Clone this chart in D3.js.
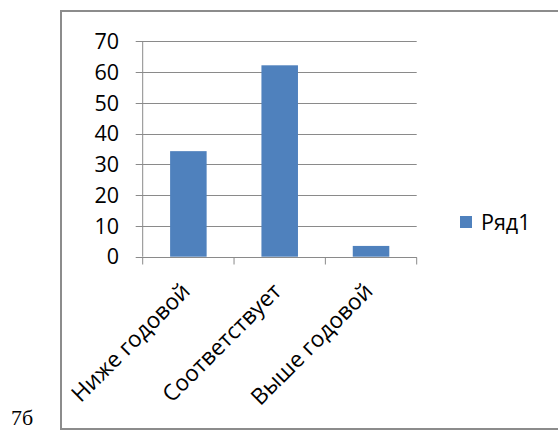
<!DOCTYPE html>
<html><head><meta charset="utf-8">
<script src="https://cdn.jsdelivr.net/npm/d3@7"></script>
<style>body{margin:0;background:#fff}</style>
</head><body>
<script>
const categories = ["Ниже годовой", "Соответствует", "Выше годовой"];
const values = [34.3, 62.2, 3.5];
const seriesName = "Ряд1";
const yTicks = [0, 10, 20, 30, 40, 50, 60, 70];
const caption = "7б";

(function () {
const W = 558, H = 432;
const svg = d3.select("body").append("svg").attr("width", W).attr("height", H);
const font = "'Open Sans', Carlito, sans-serif";
const fs = 21.5;

// chart frame (right edge runs off the picture)
svg.append("rect").attr("x", 61).attr("y", 11).attr("width", 520).attr("height", 418)
  .attr("fill", "#fff").attr("stroke", "#8c8c8c").attr("stroke-width", 2);

svg.append("text").attr("x", 11).attr("y", 425).attr("font-family", "'Liberation Serif', 'Times New Roman', serif")
  .attr("font-size", 22).attr("fill", "#000").text(caption);

const pl = 142.7, pr = 416.7, pt = 41.3, pb = 256.7;
const x = d3.scaleBand().domain(categories).range([pl, pr]).paddingInner(0.6).paddingOuter(0.3);
const y = d3.scaleLinear().domain([0, 70]).range([pb, pt]);

// gridlines
svg.append("g").selectAll("line").data(yTicks).join("line")
  .attr("x1", pl - 7).attr("x2", pr).attr("y1", d => Math.round(y(d)) + 0.5).attr("y2", d => Math.round(y(d)) + 0.5)
  .attr("stroke", "#8a8a8a").attr("stroke-width", 1);

// y axis line
svg.append("line").attr("x1", pl).attr("x2", pl).attr("y1", pt).attr("y2", pb)
  .attr("stroke", "#8a8a8a");

// y labels
svg.append("g").selectAll("text").data(yTicks).join("text")
  .attr("x", 119).attr("y", d => y(d)).attr("dy", "0.36em").attr("text-anchor", "end")
  .attr("font-family", font).attr("font-size", fs).attr("fill", "#000").text(d => d);

// bars
svg.append("g").selectAll("rect").data(values).join("rect")
  .attr("x", (d, i) => x(categories[i])).attr("width", x.bandwidth())
  .attr("y", d => y(d)).attr("height", d => y(0) - y(d)).attr("fill", "#4F81BD");

// x axis
const xb = Math.round(y(0)) + 0.5;
svg.append("line").attr("x1", pl).attr("x2", pr).attr("y1", xb).attr("y2", xb).attr("stroke", "#8a8a8a");
const step = (pr - pl) / categories.length;
const tickXs = d3.range(categories.length + 1).map(i => pl + i * step);
svg.append("g").selectAll("line").data(tickXs).join("line")
  .attr("x1", d => d).attr("x2", d => d).attr("y1", xb).attr("y2", xb + 7).attr("stroke", "#8a8a8a");

// x labels
svg.append("g").selectAll("text").data(categories).join("text")
  .attr("transform", d => `translate(${x(d) + x.bandwidth() / 2 + 3},${pb + 36}) rotate(-45)`)
  .attr("text-anchor", "end")
  .attr("font-family", font).attr("font-size", 22.5).attr("fill", "#000").text(d => d);

// legend
svg.append("rect").attr("x", 460).attr("y", 216).attr("width", 12).attr("height", 12).attr("fill", "#4F81BD");
svg.append("text").attr("x", 481).attr("y", 230)
  .attr("font-family", font).attr("font-size", fs).attr("fill", "#000").text(seriesName);
})();
</script>
</body></html>
